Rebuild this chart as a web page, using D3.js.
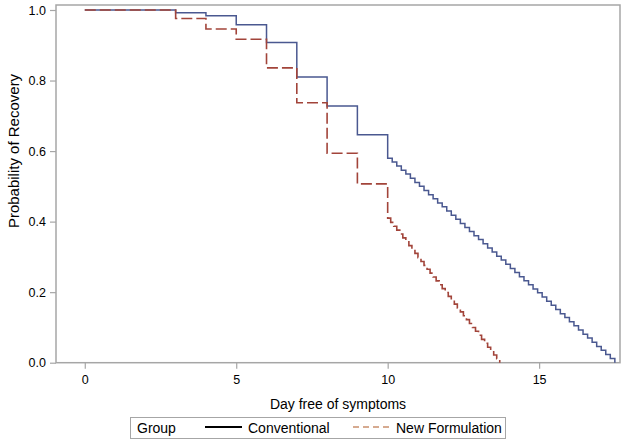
<!DOCTYPE html>
<html>
<head>
<meta charset="utf-8">
<script src="https://cdn.jsdelivr.net/npm/d3@7"></script>
<style>
  body { margin: 0; background: #fff; }
  svg text { font-family: "Liberation Sans", Arial, sans-serif; fill: #000; }
</style>
</head>
<body>
<div id="chart"></div>
<script>
// Kaplan-Meier style step values
var convTimes = [0, 3, 4, 5, 6, 7, 8, 9, 10,
    10.15, 10.30, 10.45, 10.60, 10.75, 10.90, 11.05, 11.20, 11.35, 11.50,
    11.65, 11.80, 11.95, 12.10, 12.25, 12.40, 12.55, 12.70, 12.85, 13.00,
    13.15, 13.30, 13.45, 13.60, 13.75, 13.90, 14.05, 14.20, 14.35, 14.50,
    14.65, 14.80, 14.95, 15.10, 15.25, 15.40, 15.55, 15.70, 15.85, 16.00,
    16.15, 16.30, 16.45, 16.60, 16.75, 16.90, 17.05, 17.20, 17.35, 17.50];
var convSurv = [1.0, 0.992, 0.984, 0.958, 0.908, 0.810, 0.728, 0.646, 0.580,
    0.569, 0.558, 0.546, 0.535, 0.523, 0.511, 0.500, 0.488, 0.476, 0.465,
    0.453, 0.442, 0.430, 0.418, 0.407, 0.395, 0.383, 0.372, 0.360, 0.349,
    0.337, 0.325, 0.314, 0.302, 0.291, 0.279, 0.267, 0.256, 0.244, 0.232,
    0.221, 0.209, 0.198, 0.186, 0.174, 0.163, 0.151, 0.139, 0.128, 0.116,
    0.105, 0.093, 0.081, 0.070, 0.058, 0.046, 0.035, 0.023, 0.012, 0.000];

var newTimes = [0, 3, 4, 5, 6, 7, 8, 9, 10,
    10.1, 10.2, 10.3, 10.4, 10.5, 10.6, 10.7, 10.8, 10.9, 11.0,
    11.1, 11.2, 11.3, 11.4, 11.5, 11.6, 11.7, 11.8, 11.9, 12.0,
    12.1, 12.2, 12.3, 12.4, 12.5, 12.6, 12.7, 12.8, 12.9, 13.0,
    13.1, 13.2, 13.3, 13.4, 13.5, 13.6, 13.7];
var newSurv = [1.0, 0.976, 0.946, 0.917, 0.836, 0.737, 0.594, 0.507, 0.410,
    0.398, 0.387, 0.376, 0.365, 0.354, 0.343, 0.332, 0.321, 0.310, 0.298,
    0.287, 0.276, 0.265, 0.254, 0.243, 0.232, 0.221, 0.210, 0.199, 0.188,
    0.177, 0.166, 0.155, 0.144, 0.133, 0.122, 0.111, 0.100, 0.089, 0.078,
    0.066, 0.055, 0.044, 0.033, 0.022, 0.011, 0.000];

var xTicks = [0, 5, 10, 15];
var yTicks = [0.0, 0.2, 0.4, 0.6, 0.8, 1.0];
var groups = ["Conventional", "New Formulation"];

var width = 624, height = 442;
var margin = {top: 5, right: 4, bottom: 79, left: 56};

var convColor = "#4a5890";
var newColor = "#a2443a";
var frameColor = "#a6a6a6";

var svg = d3.select("#chart").append("svg")
    .attr("width", width)
    .attr("height", height);

var x = d3.scaleLinear()
    .domain([-0.95, 17.67])
    .range([margin.left, width - margin.right]);

var y = d3.scaleLinear()
    .domain([0, 1])
    .range([362.7, 10]);

// plot frame
svg.append("rect")
    .attr("x", margin.left)
    .attr("y", margin.top)
    .attr("width", width - margin.right - margin.left)
    .attr("height", y(0) - margin.top)
    .attr("fill", "none")
    .attr("stroke", frameColor)
    .attr("stroke-width", 1.5);

// x axis
var xAxis = d3.axisBottom(x)
    .tickValues(xTicks)
    .tickFormat(d3.format("d"))
    .tickSize(6)
    .tickPadding(6);

var gx = svg.append("g")
    .attr("transform", "translate(0," + y(0) + ")")
    .call(xAxis);
gx.select(".domain").remove();
gx.selectAll("line").attr("stroke", frameColor).attr("stroke-width", 1.2);
gx.selectAll("text").style("font-size", "12.5px");

// y axis
var yAxis = d3.axisLeft(y)
    .tickValues(yTicks)
    .tickFormat(d3.format(".1f"))
    .tickSize(6)
    .tickPadding(4);

var gy = svg.append("g")
    .attr("transform", "translate(" + margin.left + ",0)")
    .call(yAxis);
gy.select(".domain").remove();
gy.selectAll("line").attr("stroke", frameColor).attr("stroke-width", 1.2);
gy.selectAll("text").style("font-size", "12.5px");

// axis titles
svg.append("text")
    .attr("x", (margin.left + width - margin.right) / 2)
    .attr("y", 409)
    .attr("text-anchor", "middle")
    .style("font-size", "14px")
    .text("Day free of symptoms");

svg.append("text")
    .attr("transform", "translate(19,151) rotate(-90)")
    .attr("text-anchor", "middle")
    .style("font-size", "15px")
    .text("Probability of Recovery");

// survival step lines
var line = d3.line()
    .x(function (d) { return x(d[0]); })
    .y(function (d) { return y(d[1]); })
    .curve(d3.curveStepAfter);

var convData = convTimes.map(function (t, i) { return [t, convSurv[i]]; });
var newData = newTimes.map(function (t, i) { return [t, newSurv[i]]; });

svg.append("path")
    .datum(convData)
    .attr("d", line)
    .attr("fill", "none")
    .attr("stroke", convColor)
    .attr("stroke-width", 1.5);

svg.append("path")
    .datum(newData)
    .attr("d", line)
    .attr("fill", "none")
    .attr("stroke", newColor)
    .attr("stroke-width", 1.6)
    .attr("stroke-dasharray", "11,4");

// legend
var lg = svg.append("g");
lg.append("rect")
    .attr("x", 130.5)
    .attr("y", 417.5)
    .attr("width", 375)
    .attr("height", 21)
    .attr("fill", "#fff")
    .attr("stroke", frameColor)
    .attr("stroke-width", 1);

lg.append("text")
    .attr("x", 137)
    .attr("y", 433)
    .style("font-size", "14px")
    .text("Group");

lg.append("line")
    .attr("x1", 205).attr("x2", 242)
    .attr("y1", 427).attr("y2", 427)
    .attr("stroke", "#000")
    .attr("stroke-width", 2);

lg.append("text")
    .attr("x", 248)
    .attr("y", 433)
    .style("font-size", "14px")
    .text(groups[0]);

lg.append("line")
    .attr("x1", 353).attr("x2", 390)
    .attr("y1", 427).attr("y2", 427)
    .attr("stroke", "#d6aa90")
    .attr("stroke-width", 2)
    .attr("stroke-dasharray", "6,4");

lg.append("text")
    .attr("x", 396)
    .attr("y", 433)
    .style("font-size", "14px")
    .text(groups[1]);
</script>
</body>
</html>
